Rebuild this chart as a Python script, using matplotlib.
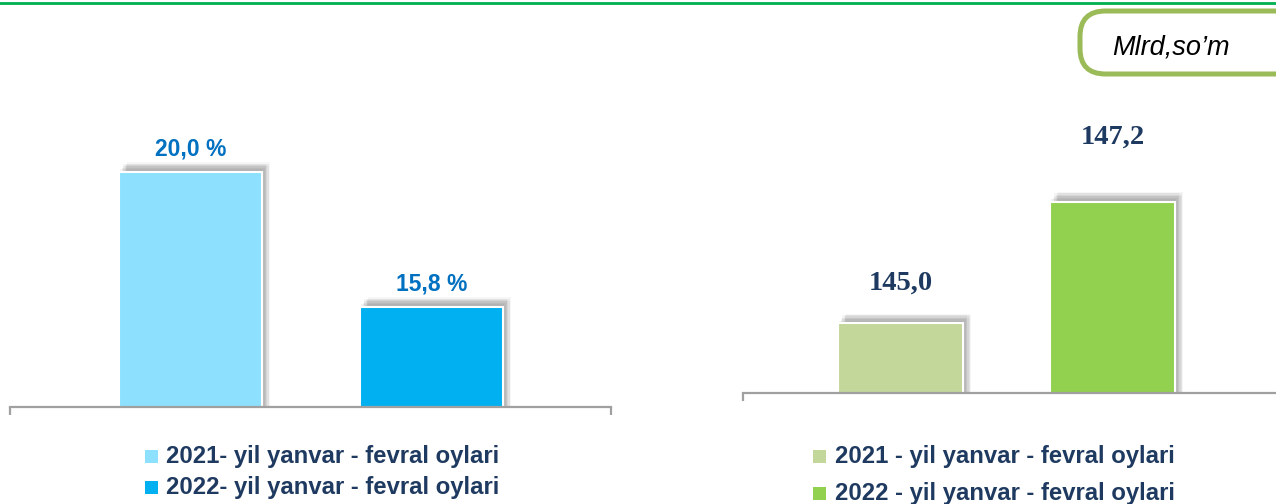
import matplotlib
matplotlib.use("Agg")
import matplotlib.pyplot as plt
from matplotlib.patches import FancyBboxPatch, Rectangle
from matplotlib.lines import Line2D
import matplotlib.patheffects as pe

# data
left_values = [20.0, 15.8]
left_labels = ["20,0 %", "15,8 %"]
left_legend = ["2021- yil yanvar - fevral oylari", "2022- yil yanvar - fevral oylari"]
left_colors = ["#8DE1FF", "#00B0F0"]

right_values = [145.0, 147.2]
right_labels = ["145,0", "147,2"]
right_legend = ["2021 - yil yanvar - fevral oylari", "2022 - yil yanvar - fevral oylari"]
right_colors = ["#C4D79B", "#92D050"]

unit_text = "Mlrd,so\u2019m"

W, H = 1276, 504
fig = plt.figure(figsize=(W / 100, H / 100), dpi=100)

SANS = ["Liberation Sans", "DejaVu Sans"]
navy = "#1F3A60"


def px(x, y):
    # pixel (from top-left) -> figure fraction
    return x / W, 1 - y / H


def shadow():
    effs = []
    for dx, dy, a in [(1, 2, 0.07), (2, 3, 0.08), (3, 4, 0.08), (4, 5, 0.08),
                      (5, 6, 0.07), (3, 6, 0.06), (5, 4, 0.06), (6, 7, 0.05)]:
        effs.append(pe.SimplePatchShadow(offset=(dx, dy), shadow_rgbFace="#555555", alpha=a))
    effs.append(pe.Normal())
    return effs


def setup_axis(ax, xlim, ylim):
    ax.set_xlim(*xlim)
    ax.set_ylim(*ylim)
    for s in ["top", "left", "right"]:
        ax.spines[s].set_visible(False)
    ax.spines["bottom"].set_color("#A0A0A0")
    ax.spines["bottom"].set_linewidth(1.6)
    ax.set_yticks([])
    ax.set_xticks(list(xlim))
    ax.set_xticklabels([])
    ax.tick_params(axis="x", direction="out", length=6, width=1.6, color="#A0A0A0")
    ax.patch.set_alpha(0)


# left chart
axL = fig.add_axes([10 / W, (H - 406.5) / H, 601 / W, 386.5 / H])
setup_axis(axL, (-0.749, 1.745), (12.70, 24.725))
bars = axL.bar(range(len(left_values)), left_values, width=0.593, color=left_colors,
               edgecolor="white", linewidth=1.5)
for b in bars:
    b.set_path_effects(shadow())
for i, (v, t) in enumerate(zip(left_values, left_labels)):
    axL.annotate(t, (i, v), xytext=(0, 12), textcoords="offset points", ha="center",
                 va="baseline", fontsize=16.5, fontweight="bold", color="#0070C0", family=SANS)

# right chart
axR = fig.add_axes([743 / W, (H - 392.5) / H, 547 / W, 372.5 / H])
setup_axis(axR, (-0.743, 1.837), (143.748, 150.488))
bars = axR.bar(range(len(right_values)), right_values, width=0.59, color=right_colors,
               edgecolor="white", linewidth=1.5)
for b in bars:
    b.set_path_effects(shadow())
label_off = [24, 42]
for i, (v, t) in enumerate(zip(right_values, right_labels)):
    axR.annotate(t, (i, v), xytext=(0, label_off[i]), textcoords="offset points", ha="center",
                 va="baseline", fontsize=20.5, fontweight="bold", color=navy,
                 family=["Liberation Serif", "DejaVu Serif"])


# legends
def draw_legend(labels, colors, sq_x, text_x, baselines):
    for lab, col, yb in zip(labels, colors, baselines):
        x0, y0 = px(sq_x, yb)
        fig.patches.append(Rectangle((x0, y0), 13 / W, 13 / H, transform=fig.transFigure,
                                     facecolor=col, edgecolor="none"))
        tx, ty = px(text_x, yb)
        fig.text(tx, ty, lab, ha="left", va="baseline", fontsize=17.2, fontweight="bold",
                 color=navy, family=SANS)


draw_legend(left_legend, left_colors, 145, 166, [463, 494])
draw_legend(right_legend, right_colors, 813, 835, [463, 500])

# top green line
fig.add_artist(Line2D([0, 1], [1 - 3 / H, 1 - 3 / H], transform=fig.transFigure,
                      color="#00B050", linewidth=2))

# unit box
bx, by = px(1080, 74)
box = FancyBboxPatch((bx, by), 220 / W, 63 / H, boxstyle="round,pad=0,rounding_size=0.02",
                     transform=fig.transFigure, facecolor="white", edgecolor="#9BBB59",
                     linewidth=3.6, mutation_aspect=W / H)
fig.patches.append(box)
tx, ty = px(1171, 47)
fig.text(tx, ty, unit_text, ha="center", va="center", fontsize=19.5, style="italic",
         color="black", family=SANS)

fig.savefig("out.png", dpi=100)
